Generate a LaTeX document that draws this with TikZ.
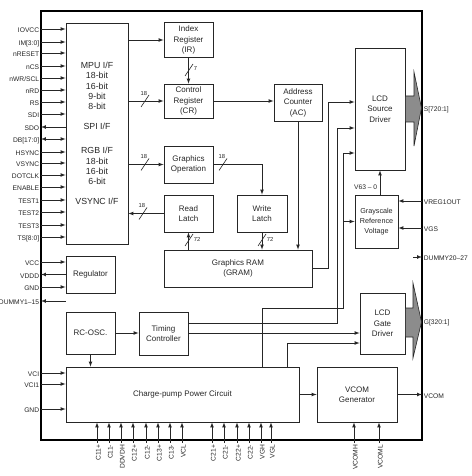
\documentclass[tikz,border=0pt]{standalone}
\usepackage{fontspec}
\setmainfont{Liberation Sans}

\begin{document}
\begin{tikzpicture}[>=latex,x=1pt,y=-1pt,line width=0.7pt,color=black!85,
  blk/.style={draw,line width=0.8pt,align=center,inner sep=1pt,
    font=\fontsize{8}{10.5}\selectfont},
  sig label/.style={inner sep=1.5pt,text height=1.6ex,text depth=0.2ex,
    font=\fontsize{6.7}{7}\selectfont},
  bus label/.style={inner sep=0.5pt,font=\fontsize{5.8}{6}\selectfont},
  pics/bus h/.style={code={\draw[-,line width=0.6pt] (-4,6) -- (4,-6);
    \node[bus label,anchor=south east] at (3,-5) {#1};}},
  pics/bus v/.style={code={\draw[-,line width=0.6pt] (-4,6) -- (4,-6);
    \node[bus label,anchor=west] at (4,-1) {#1};}}]
  \useasboundingbox (0,0) rectangle (471,476);
  \node[draw=black,line width=1.6pt,minimum width=381,minimum height=429,inner sep=0] (chip) at (231.5,225.5) {};

  % blocks
  \node[blk,minimum width=62,minimum height=221,font=\fontsize{8.8}{10.2}\selectfont] (mpu) at (97,133.5)
    {MPU I/F\\18-bit\\16-bit\\9-bit\\8-bit\\[10pt]SPI I/F\\[14pt]RGB I/F\\18-bit\\16-bit\\6-bit\\[10pt]VSYNC I/F};
  \node[blk,minimum width=49,minimum height=35] (ir) at (188.5,40) {Index\\Register\\(IR)};
  \node[blk,minimum width=49,minimum height=34] (cr) at (188.5,101) {Control\\Register\\(CR)};
  \node[blk,minimum width=48,minimum height=37] (ac) at (298,102.5) {Address\\Counter\\(AC)};
  \node[blk,minimum width=49,minimum height=37] (go) at (188.5,164.5) {Graphics\\Operation};
  \node[blk,minimum width=49,minimum height=37] (rl) at (188.5,213.5) {Read\\Latch};
  \node[blk,minimum width=50,minimum height=37] (wl) at (262,213.5) {Write\\Latch};
  \node[blk,minimum width=148,minimum height=37] (gram) at (238,268.5) {Graphics RAM\\(GRAM)};
  \node[blk,minimum width=50,minimum height=122] (lsd) at (380,109) {LCD\\Source\\Driver};
  \node[blk,minimum width=43,minimum height=53,font=\fontsize{7.2}{10}\selectfont] (grv) at (376.5,221.5) {Grayscale\\Reference\\Voltage};
  \node[blk,minimum width=49,minimum height=37] (reg) at (90.5,274.5) {Regulator};
  \node[blk,minimum width=49,minimum height=42] (osc) at (90.5,333) {RC-OSC.};
  \node[blk,minimum width=49,minimum height=43] (tc) at (163.5,333.5) {Timing\\Controller};
  \node[blk,minimum width=45,minimum height=61] (lgd) at (382.5,323.5) {LCD\\Gate\\Driver};
  \node[blk,minimum width=233,minimum height=55] (cpc) at (182.5,394.5) {Charge-pump Power Circuit};
  \node[blk,minimum width=80,minimum height=55] (vcg) at (357,394.5) {VCOM\\Generator};

  % output arrows
  \filldraw[fill=black!45,line width=0.6pt] (lsd.east |- 0,96) -- (414,96) -- (414,72) -- (421.5,108)
    -- (414,146) -- (414,122) -- (lsd.east |- 0,122) -- cycle;
  \filldraw[fill=black!45,line width=0.6pt] (lgd.east |- 0,308) -- (413,308) -- (413,283) -- (421.5,322)
    -- (413,358) -- (413,337) -- (lgd.east |- 0,337) -- cycle;

  % internal connections
  \path[->] (mpu.east |- ir.west) edge (ir.west)
    (ir) edge (cr)
    (mpu.east |- cr.west) edge (cr.west)
    (cr.east) edge (ac.west |- cr.east)
    (mpu.east |- go.west) edge (go.west)
    (rl.west) edge (mpu.east |- rl.west)
    (gram.north -| rl) edge (rl.south)
    (wl.south) edge (gram.north -| wl)
    (ac.south) edge (gram.north -| ac)
    (osc.east) edge (tc.west |- osc.east)
    (osc.south) edge (cpc.north -| osc)
    (cpc) edge (vcg)
    (lsd.south |- grv.north) edge (lsd.south);
  \draw[->] (go.east) -| (wl.north);
  \draw[->] (gram.east) -| (328,102) -- (lsd.west |- 0,102);
  \draw[->] (tc.east |- 0,323) -| (337,128) -- (lsd.west |- 0,128);
  \draw[->] (cpc.north -| 262,0) |- (343,308) -- (343,153) -- (lsd.west |- 0,153);
  \draw[->] (grv.west -| 343,0) -- (grv.west);
  \draw[->] (tc.east |- 0,333) -- (lgd.west |- 0,333);
  \draw[->] (cpc.north -| 287,0) |- (lgd.west |- 0,343);
  \node[sig label,anchor=east] (v63) at (379,186) {V63 -- 0};

  % bus widths
  \pic at (189,70) {bus v=7};
  \pic at (145,101) {bus h=18};
  \pic at (145,164.5) {bus h=18};
  \pic at (143,213.5) {bus h=18};
  \pic at (223,164.5) {bus h=18};
  \pic at (189,240) {bus v=72};
  \pic at (262,240) {bus v=72};

  % left pins
  \foreach \txt/\yy in {IOVCC/29,IM[3:0]/42,nRESET/53,nCS/66,{nWR/SCL}/78,nRD/90,RS/102,SDI/114,
      HSYNC/152,VSYNC/163,DOTCLK/175,ENABLE/187,TEST1/200,TEST2/212,TEST3/225,TS[8:0]/237}
    {\node[sig label,anchor=east] (p\yy) at (41,\yy) {\txt};
     \draw[->] (p\yy) -- (mpu.west |- p\yy);}
  \node[sig label,anchor=east] (sdo) at (41,127) {SDO};
  \draw[<-] (sdo) -- (mpu.west |- sdo);
  \node[sig label,anchor=east] (db) at (41,139) {DB[17:0]};
  \draw[<->] (db) -- (mpu.west |- db);
  \node[sig label,anchor=east] (vcc) at (41,262) {VCC};
  \draw[->] (vcc) -- (reg.west |- vcc);
  \node[sig label,anchor=east] (vddd) at (41,274.5) {VDDD};
  \draw[<-] (vddd) -- (reg.west |- vddd);
  \node[sig label,anchor=east] (gnd_r) at (41,287) {GND};
  \draw[->] (gnd_r) -- (reg.west |- gnd_r);
  \node[sig label,anchor=east] (dum1) at (41,301) {DUMMY1--15};
  \draw[<-] (dum1) -- (osc.west |- dum1);
  \node[sig label,anchor=east] (vci) at (41,373) {VCI};
  \draw[->] (vci) -- (cpc.west |- vci);
  \node[sig label,anchor=east] (vci1) at (41,384) {VCI1};
  \draw[->] (vci1) -- (cpc.west |- vci1);
  \node[sig label,anchor=east] (gnd_c) at (41,409) {GND};
  \draw[->] (gnd_c) -- (cpc.west |- gnd_c);

  % right pins
  \node[sig label,anchor=west] (src) at (422,108) {S[720:1]};
  \node[sig label,anchor=west] (gate) at (422,321) {G[320:1]};
  \node[sig label,anchor=west] (vreg) at (422,201) {VREG1OUT};
  \draw[->] (vreg) -- (grv.east |- vreg);
  \node[sig label,anchor=west] (vgs) at (422,228) {VGS};
  \draw[->] (vgs) -- (grv.east |- vgs);
  \node[sig label,anchor=west] (dum2) at (422,257) {DUMMY20--27};
  \coordinate (dum2_in) at (413,257);
  \draw[->] (dum2_in) -- (dum2);
  \node[sig label,anchor=west] (vcom) at (422,394.5) {VCOM};
  \draw[->] (vcg) -- (vcom);

  % bottom pins
  \foreach \txt/\xx in {C11+/97,C11-/109,DDVDH/121,C12+/133,C12-/146,C13+/158,C13-/170,VCL/182,
      C21+/212,C21-/224,C22+/237,C22-/249,VGH/261,VGL/271}
    {\node[sig label,rotate=90,anchor=east] (b\xx) at (\xx,443) {\txt};
     \draw[->] (b\xx) -- (cpc.south -| b\xx);}
  \node[sig label,rotate=90,anchor=east] (vcomh) at (354,443) {VCOMH};
  \draw[->] (vcomh) -- (vcg.south -| vcomh);
  \node[sig label,rotate=90,anchor=east] (vcoml) at (379,443) {VCOML};
  \draw[->] (vcoml) -- (vcg.south -| vcoml);
\end{tikzpicture}
\end{document}
